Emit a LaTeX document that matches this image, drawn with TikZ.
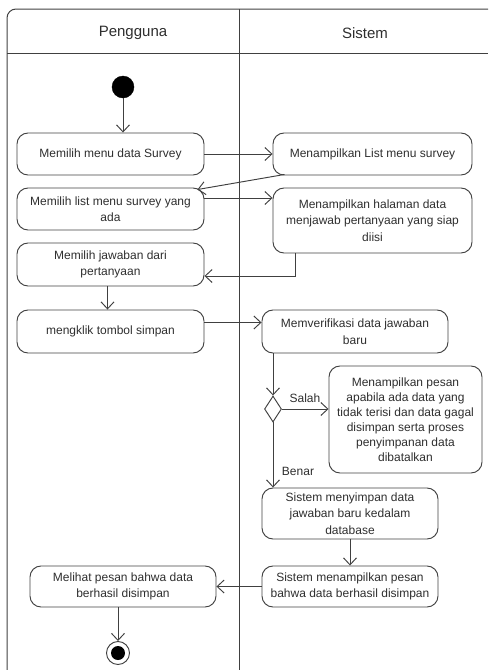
\documentclass[tikz,border=0pt]{standalone}
\usepackage{fontspec}
\setmainfont{Liberation Sans}
\usetikzlibrary{arrows.meta,shapes.geometric,calc}
\definecolor{ln}{HTML}{404040}
\definecolor{tx}{HTML}{2E2E2E}
\tikzset{
  act/.style={draw=ln, line width=0.95pt, rounded corners=11pt, align=center, inner sep=2pt,
    text=tx, font=\fontsize{12}{16.5}\selectfont},
  flow/.style={draw=ln, line width=0.95pt, -{Straight Barb[length=7pt,width=13pt,line width=0.95pt]}},
  lbl/.style={text=tx, font=\fontsize{12}{14}\selectfont, inner sep=1pt},
  hdr/.style={text=tx, font=\fontsize{15}{18}\selectfont},
}
\begin{document}
\begin{tikzpicture}[x=1pt,y=-1pt]
\useasboundingbox (0,0) rectangle (488,670);
% swimlane frame
\draw[ln, line width=1pt, rounded corners=9pt] (7,670) -- (7,9) -- (488,9);
\draw[ln, line width=1pt] (7,53) -- (488,53);
\draw[ln, line width=1pt] (239,9) -- (239,670);
\node[hdr] (h1) at (133,33) {Pengguna};
\node[hdr] (h2) at (365,33) {Sistem};
% start / end
\node[circle, fill=black, draw=black, minimum size=22pt, inner sep=0] (start) at (123,87) {};
\node[circle, draw=ln, line width=0.95pt, minimum size=23pt, inner sep=0] (end) at (118,653) {};
\node[circle, fill=black, minimum size=14pt, inner sep=0] (endin) at (118,653) {};
% activities
\node[act, minimum width=187pt, minimum height=42pt] (b1) at (110.5,154) {Memilih menu data Survey};
\node[act, minimum width=199pt, minimum height=42pt] (b2) at (372.5,154) {Menampilkan List menu survey};
\node[act, minimum width=187pt, minimum height=42pt] (b3) at (110.5,209) {Memilih list menu survey yang\\ada};
\node[act, minimum width=199pt, minimum height=65pt] (b4) at (372.5,220.5) {Menampilkan halaman data\\menjawab pertanyaan yang siap\\diisi};
\node[act, minimum width=187pt, minimum height=43pt] (b5) at (110.5,264.5) {Memilih jawaban dari\\pertanyaan};
\node[act, minimum width=187pt, minimum height=43pt] (b6) at (110.5,331.5) {mengklik tombol simpan};
\node[act, minimum width=186pt, minimum height=43pt] (b7) at (355,331.5) {Memverifikasi data jawaban\\baru};
\node[diamond, draw=ln, line width=0.95pt, minimum width=17pt, minimum height=26pt, inner sep=0] (d) at (273,409) {};
\node[act, minimum width=153pt, minimum height=107pt, font=\fontsize{12}{15}\selectfont] (b8) at (405.5,419.5) {Menampilkan pesan\\apabila ada data yang\\tidak terisi dan data gagal\\disimpan serta proses\\penyimpanan data\\dibatalkan};
\node[act, minimum width=176pt, minimum height=51pt] (b9) at (350,513.5) {Sistem menyimpan data\\jawaban baru kedalam\\database};
\node[act, minimum width=176pt, minimum height=41pt] (b10) at (350,586.5) {Sistem menampilkan pesan\\bahwa data berhasil disimpan};
\node[act, minimum width=186pt, minimum height=41pt] (b11) at (123,586.5) {Melihat pesan bahwa data\\berhasil disimpan};
% connectors
\draw[flow] (start.south) -- (start.south |- b1.north);
\draw[flow] (b1.east) -- (b2.west);
\draw[flow] ([xshift=12pt,yshift=1pt]b2.south west) -- ([xshift=-7pt,yshift=-2pt]b3.north east);
\draw[flow] ([yshift=11pt]b3.east) -- ([yshift=11pt]b3.east -| b4.west);
\draw[flow] ([xshift=-77.5pt]b4.south) |- ([yshift=-11.5pt]b5.east);
\draw[flow] ([xshift=-3pt]b5.south) -- ([xshift=-3pt]b6.north);
\draw[flow] ([yshift=9pt]b6.east) -- ([yshift=9pt]b6.east -| b7.west);
\draw[flow] (d.north |- b7.south) -- (d.north);
\draw[flow] (d.east) -- (d.east -| b8.west);
\node[lbl] (ls) at (305,398) {Salah};
\draw[flow] (d.south) -- (d.south |- b9.north);
\node[lbl] (lb) at (298,471) {Benar};
\draw[flow] (b9.south) -- (b10.north);
\draw[flow] (b10.west) -- (b11.east);
\draw[flow] (b11.south -| end) -- (end.north);
\end{tikzpicture}
\end{document}
